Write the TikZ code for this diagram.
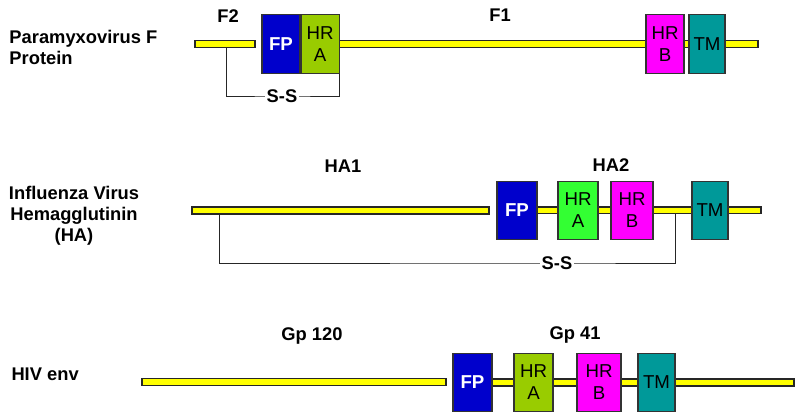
\documentclass[tikz,border=0pt]{standalone}
\usepackage{fontspec}
\setmainfont{Liberation Sans}
\usepackage{tikz}
\tikzset{every picture/.style={line width=0.75pt}}
\definecolor{baryellow}{RGB}{255,255,0}
\definecolor{fpblue}{RGB}{0,0,204}
\definecolor{hraolive}{RGB}{153,204,0}
\definecolor{hralime}{RGB}{51,255,51}
\definecolor{hrbmagenta}{RGB}{255,0,255}
\definecolor{tmteal}{RGB}{0,153,153}

\begin{document}
\begin{tikzpicture}[x=0.75pt,y=0.75pt,yscale=-1,xscale=1,
  bar/.style={draw=black!85,fill=baryellow,line width=0.9pt},
  dombox/.style={draw=black!80,line width=0.9pt,inner sep=0pt,minimum height=44pt,align=center,font=\fontsize{14}{16.5}\selectfont},
  fpbox/.style={dombox,fill=fpblue,text=white,font=\bfseries\fontsize{14}{16.5}\selectfont},
  hrbox/.style={dombox,fill=hraolive},
  tmbox/.style={dombox,fill=tmteal},
  title/.style={inner sep=0.75pt,font=\bfseries\fontsize{13.75}{15.75}\selectfont},
  link/.style={draw=black!85,line width=0.75pt},
  sslabel/.style={title,fill=white,inner sep=1.5pt}]
\useasboundingbox (0,0) rectangle (800,419);

%%% Paramyxovirus F protein
%Shape: Rectangle [bars]
\draw [bar] (195,40.5) rectangle (255,47.5);
\draw [bar] (338,40.5) rectangle (758,47.5);
%Shape: Rectangle [domains]
\node [fpbox,minimum width=28.5pt] (fpP) at (281,44) {FP};
\node [hrbox,minimum width=28.5pt,anchor=west] (hraP) at (fpP.east) {HR\\A};
\node [hrbox,fill=hrbmagenta,minimum width=28.5pt] (hrbP) at (665,44) {HR\\B};
\node [tmbox,minimum width=27pt] (tmP) at (707,44) {TM};
%Straight Lines [disulfide]
\coordinate (f2drop) at (226,47.5);
\coordinate (ssPpos) at (282,96);
\draw [link] (f2drop) |- (ssPpos) -| (hraP.south east);
% Text Node
\node [sslabel] (ssP) at (ssPpos) {S-S};
\node [title,anchor=base] (f2) at (228,22) {F2};
\node [title,anchor=base] (f1) at (500,21) {F1};
\node [title,anchor=west,align=left] (paramyxo) at (8,47) {Paramyxovirus F\\Protein};

%%% Influenza virus hemagglutinin
%Shape: Rectangle [bars]
\draw [bar] (192,207) rectangle (489,214);
\draw [bar] (537,207) rectangle (761,213.5);
%Shape: Rectangle [domains]
\node [fpbox,minimum width=30pt] (fpH) at (517,210.5) {FP};
\node [hrbox,fill=hralime,minimum width=30pt] (hraH) at (578,210.5) {HR\\A};
\node [hrbox,fill=hrbmagenta,minimum width=31.5pt] (hrbH) at (632,210.5) {HR\\B};
\node [tmbox,minimum width=27pt] (tmH) at (710,210.5) {TM};
%Straight Lines [disulfide]
\coordinate (ha1drop) at (219,214);
\coordinate (ha2rise) at (675,213.5);
\coordinate (ssHpos) at (557,263);
\draw [link] (ha1drop) |- (ssHpos) -| (ha2rise);
% Text Node
\node [sslabel] (ssH) at (ssHpos) {S-S};
\node [title,anchor=base] (ha1) at (343,172) {HA1};
\node [title,anchor=base] (ha2) at (611,171) {HA2};
\node [title,align=center] (influenza) at (74,216) {Influenza Virus\\Hemagglutinin\\(HA)};

%%% HIV env
%Shape: Rectangle [bars]
\draw [bar] (142,378.5) rectangle (446,385.5);
\draw [bar] (492,379) rectangle (794,386);
%Shape: Rectangle [domains]
\node [fpbox,minimum width=29.25pt] (fpV) at (472.5,382.5) {FP};
\node [hrbox,minimum width=29.25pt] (hraV) at (533.5,382.5) {HR\\A};
\node [hrbox,fill=hrbmagenta,minimum width=33pt] (hrbV) at (599,382.5) {HR\\B};
\node [tmbox,minimum width=27.75pt] (tmV) at (656.5,382.5) {TM};
% Text Node
\node [title,anchor=base] (gp120) at (312,340) {Gp 120};
\node [title,anchor=base] (gp41) at (575,339) {Gp 41};
\node [title,anchor=base west] (hiv) at (10,380) {HIV env};

\end{tikzpicture}
\end{document}
